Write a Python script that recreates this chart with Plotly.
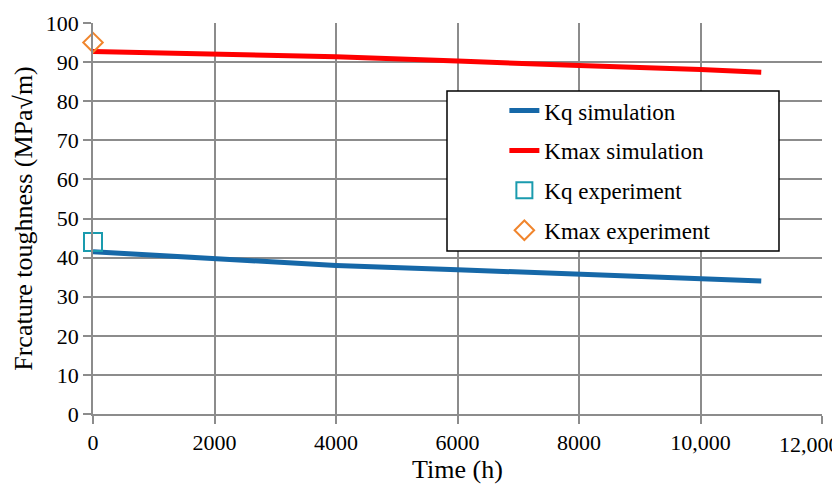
import plotly.graph_objects as go

time_sim = [0, 2000, 4000, 6000, 8000, 10000, 11000]
kq_sim = [41.5, 39.7, 38.0, 36.9, 35.7, 34.6, 34.0]
time_sim_max = [0, 2000, 4000, 6000, 7000, 8000, 10000, 11000]
kmax_sim = [92.7, 92.1, 91.4, 90.3, 89.6, 89.1, 88.1, 87.4]
time_exp = [0]
kq_exp = [44]
kmax_exp = [95]

x_tickvals = [0, 2000, 4000, 6000, 8000, 10000, 12000]
x_ticktext = ["0", "2000", "4000", "6000", "8000", "10,000", ""]
last_x_label = "12,000"
y_tickvals = [0, 10, 20, 30, 40, 50, 60, 70, 80, 90, 100]

FONT = "Liberation Serif"
GRID = "#8c8c8c"

fig = go.Figure()
fig.add_trace(go.Scatter(x=time_sim, y=kq_sim, mode="lines", name="Kq simulation",
                         line=dict(color="#1668A8", width=5), legendgroup="a"))
fig.add_trace(go.Scatter(x=time_sim_max, y=kmax_sim, mode="lines", name="Kmax simulation",
                         line=dict(color="#FF0000", width=5), legendgroup="b"))
fig.add_trace(go.Scatter(x=time_exp, y=kq_exp, mode="markers", name="Kq experiment",
                         marker=dict(symbol="square-open", size=18, color="#1A9BAE",
                                     line=dict(width=2, color="#1A9BAE")), legendgroup="c",
                         cliponaxis=False))
fig.add_trace(go.Scatter(x=time_exp, y=kmax_exp, mode="markers", name="Kmax experiment",
                         marker=dict(symbol="diamond-open", size=15, color="#F0852D",
                                     line=dict(width=2, color="#F0852D")), legendgroup="d",
                         cliponaxis=False))

# legend frame
fig.add_shape(type="rect", xref="paper", yref="paper",
              x0=0.4856, x1=0.941, y0=0.417, y1=0.826,
              line=dict(color="black", width=1.5), fillcolor="white", layer="above")

fig.add_annotation(x=12000, y=0, xref="x", yref="y", text=last_x_label,
                   showarrow=False, xanchor="center", yanchor="top",
                   xshift=-13, yshift=-16, font=dict(family=FONT, size=22, color="black"))

# the page body adds an 8px offset; figure is sized to compensate
fig.update_layout(
    width=832, height=476,
    margin=dict(l=85, r=18, t=15, b=70),
    paper_bgcolor="white", plot_bgcolor="white",
    font=dict(family=FONT, size=22, color="black"),
    showlegend=True,
    legend=dict(x=0.5643, y=0.831, xanchor="left", yanchor="top",
                borderwidth=0, bgcolor="rgba(0,0,0,0)",
                font=dict(family=FONT, size=23), tracegroupgap=7,
                traceorder="grouped"),
    xaxis=dict(range=[0, 12000], tickvals=x_tickvals, ticktext=x_ticktext,
               showgrid=True, gridcolor=GRID, gridwidth=1.5, automargin=False,
               zeroline=False, ticks="outside", ticklen=8, tickcolor=GRID,
               tickwidth=1.5, showline=True, linecolor=GRID, linewidth=1.5,
               title=dict(text="Time (h)", standoff=0),
               tickfont=dict(family=FONT, size=22)),
    yaxis=dict(range=[0, 100], tickvals=y_tickvals, automargin=False,
               showgrid=True, gridcolor=GRID, gridwidth=1.5,
               zeroline=False, ticks="outside", ticklen=8, tickcolor=GRID,
               tickwidth=1.5, showline=True, linecolor=GRID, linewidth=1.5,
               title=dict(text="Frcature toughness (MPa√m)", standoff=6),
               tickfont=dict(family=FONT, size=22)),
)

fig.write_html("out.html")
